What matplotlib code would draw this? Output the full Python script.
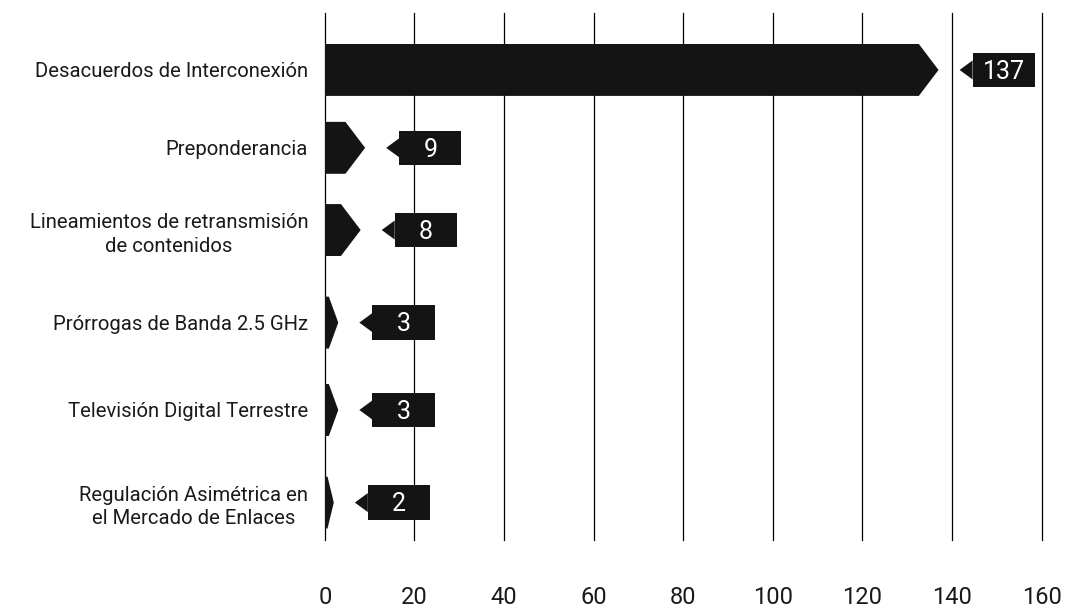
import numpy as np
import matplotlib.pyplot as plt
from matplotlib.patches import Polygon

# datos
categorias = ["Desacuerdos de Interconexión",
              "Preponderancia",
              "Lineamientos de retransmisión\nde contenidos",
              "Prórrogas de Banda 2.5 GHz",
              "Televisión Digital Terrestre",
              "Regulación Asimétrica en\nel Mercado de Enlaces"]
valores = [137, 9, 8, 3, 3, 2]
ticks_x = [0, 20, 40, 60, 80, 100, 120, 140, 160]

plt.rcParams['font.family'] = ['Roboto', 'DejaVu Sans']
color_barra = '#141414'
color_texto = '#1a1a1a'

fig = plt.figure(figsize=(10.65, 6.12), dpi=100, facecolor='white')
ax = fig.add_axes([0.305, 0.118, 0.673, 0.861])

# filas no equiespaciadas como en el original
pos = [0, 0.9, 1.85, 2.92, 3.93, 5.0]
alto = 0.6

# barras con punta de flecha
for y, v in zip(pos, valores):
    punta = min(4.4, v * 0.7)
    pts = [(0, y - alto / 2), (v - punta, y - alto / 2), (v, y),
           (v - punta, y + alto / 2), (0, y + alto / 2)]
    ax.add_patch(Polygon(pts, closed=True, facecolor=color_barra,
                         edgecolor='none', zorder=3))

    # etiqueta con flecha
    x0 = v + 4.7
    caja_x = x0 + 2.9
    caja_w = 13.9
    caja_h = 0.40
    ax.add_patch(Polygon([(x0, y), (caja_x, y - 0.11), (caja_x, y + 0.11)],
                         closed=True, facecolor=color_barra, edgecolor='none', zorder=3))
    ax.add_patch(plt.Rectangle((caja_x, y - caja_h / 2), caja_w, caja_h,
                               facecolor=color_barra, edgecolor='none', zorder=3))
    ax.text(caja_x + caja_w / 2, y + 0.02, str(v), color='white', fontsize=18,
            ha='center', va='center', zorder=4)

ax.set_xlim(0, 160)
ax.set_ylim(5.43, -0.66)
ax.set_xticks(ticks_x)
ax.set_xticklabels([str(t) for t in ticks_x], fontsize=17, color=color_texto)
ax.set_yticks(pos)
ax.set_yticklabels(categorias, fontsize=14.6, color=color_texto,
                   multialignment='center', linespacing=1.3)
ax.tick_params(axis='x', length=0, pad=33)
ax.tick_params(axis='y', length=0, pad=12)

ax.grid(axis='x', color='black', linewidth=0.9, zorder=0)
for gl in ax.get_xgridlines():
    gl.set_clip_on(False)
ax.set_axisbelow(True)
for s in ax.spines.values():
    s.set_visible(False)

fig.savefig('out.png', dpi=100, facecolor='white')
